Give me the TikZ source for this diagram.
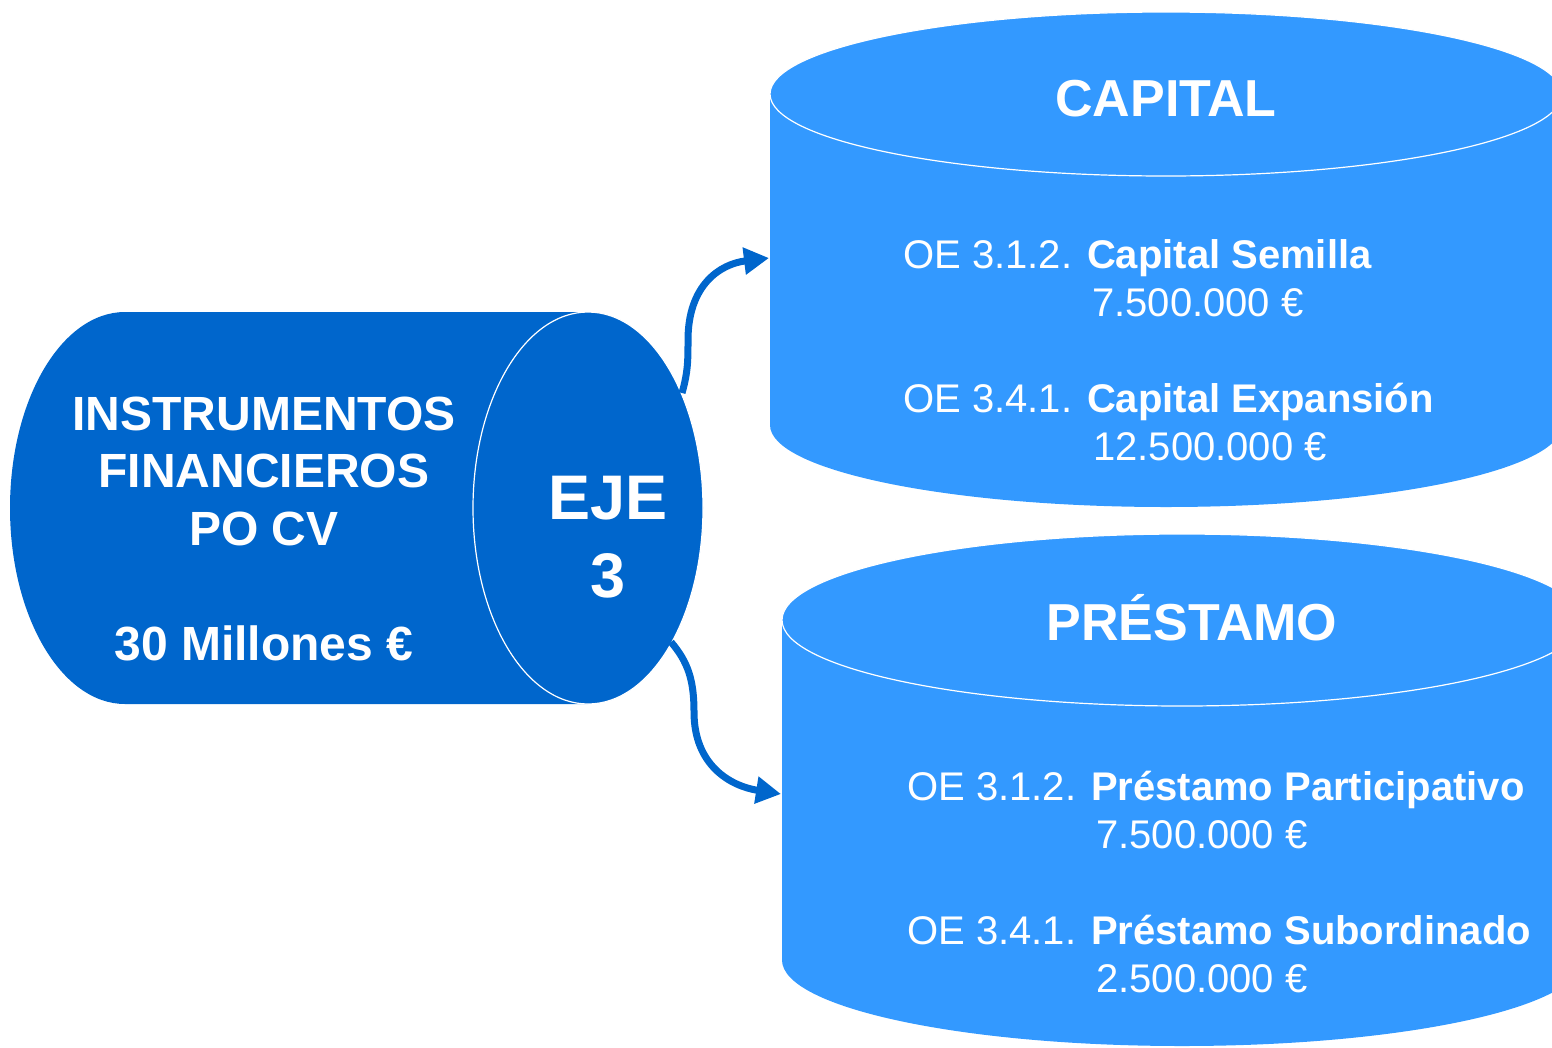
\documentclass[tikz,border=0pt]{standalone}
\usepackage{fontspec}
\setmainfont{Liberation Sans}
\usetikzlibrary{arrows.meta}

\definecolor{ejeblue}{HTML}{0066CC}
\definecolor{canblue}{HTML}{3399FF}

\tikzset{
  white text/.style={text=white, inner sep=0pt, anchor=base},
  big text/.style={white text, font=\fontsize{48}{58}\selectfont\bfseries},
  eje text/.style={white text, font=\fontsize{63}{76}\selectfont\bfseries},
  can title/.style={white text, font=\fontsize{52}{62}\selectfont\bfseries},
  oe text/.style={white text, anchor=base west, font=\fontsize{40}{48}\selectfont},
  rim/.style={draw=white, line width=1.2pt},
  flow/.style={draw=ejeblue, line width=7pt, -{Triangle[length=25pt,width=26pt]}},
}

\begin{document}
\begin{tikzpicture}[x=1pt, y=-1pt]
  \useasboundingbox (0,0) rectangle (1552,1047);
  \clip (0,0) rectangle (1552,1047);

  % horizontal can on the left
  \fill[ejeblue] (125,312) -- (588,312)
    arc[start angle=-90, end angle=90, x radius=115, y radius=196]
    -- (125,704)
    arc[start angle=90, end angle=270, x radius=115, y radius=196] -- cycle;
  \draw[rim] (588,508) ellipse [x radius=115, y radius=196];

  % upright cans on the right
  \fill[canblue] (770,94) -- (770,425)
    arc[start angle=180, end angle=0, x radius=396, y radius=82]
    -- (1562,94)
    arc[start angle=0, end angle=-180, x radius=396, y radius=82] -- cycle;
  \draw[rim] (1166,94) ellipse [x radius=396, y radius=82];

  \fill[canblue] (782,620) -- (782,960)
    arc[start angle=180, end angle=0, x radius=400, y radius=86]
    -- (1582,620)
    arc[start angle=0, end angle=-180, x radius=400, y radius=86] -- cycle;
  \draw[rim] (1182,620) ellipse [x radius=400, y radius=86];

  \node[big text] (instr) at (264,430) {INSTRUMENTOS};
  \node[big text] (financ) at (264,487) {FINANCIEROS};
  \node[big text] (pocv) at (264,545) {PO CV};
  \node[big text] (total) at (264,660) {30 Millones €};

  \node[eje text] (eje) at (608,519) {EJE};
  \node[eje text] (ejenum) at (608,597) {3};

  \node[can title] (capital) at (1166,116) {CAPITAL};
  \node[oe text] (semilla) at (903,268) {OE 3.1.2. \textbf{Capital Semilla}};
  \node[oe text] (semillaamt) at (1092,316) {7.500.000 €};
  \node[oe text] (expansion) at (903,412) {OE 3.4.1. \textbf{Capital Expansión}};
  \node[oe text] (expansionamt) at (1093,460) {12.500.000 €};

  \node[can title] (prestamo) at (1192,640) {PRÉSTAMO};
  \node[oe text] (particip) at (907,800) {OE 3.1.2. \textbf{Préstamo Participativo}};
  \node[oe text] (participamt) at (1096,848) {7.500.000 €};
  \node[oe text] (subord) at (907,944) {OE 3.4.1. \textbf{Préstamo Subordinado}};
  \node[oe text] (subordamt) at (1096,992) {2.500.000 €};

  \coordinate (ejetop) at (682,393);
  \coordinate (capitalin) at (769,258);
  \coordinate (ejebottom) at (671,642);
  \coordinate (prestamoin) at (781,794);

  \draw[flow] (ejetop) .. controls (688,372) and (688,360) .. (688,340)
    .. controls (688,285) and (720,264) .. (capitalin);
  \draw[flow] (ejebottom) .. controls (688,662) and (694,680) .. (694,712)
    .. controls (694,765) and (730,786) .. (prestamoin);
\end{tikzpicture}
\end{document}
